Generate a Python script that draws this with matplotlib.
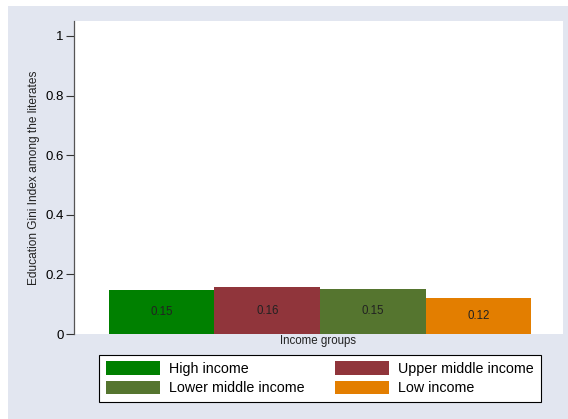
import matplotlib.pyplot as plt
from matplotlib.patches import Rectangle

plt.rcParams['font.family'] = ['Liberation Sans', 'DejaVu Sans']

groups = ['High income', 'Upper middle income', 'Lower middle income', 'Low income']
gini = [0.148, 0.157, 0.151, 0.121]
labels = ['0.15', '0.16', '0.15', '0.12']
colors = ['#008000', '#90353B', '#55752F', '#E37E00']

fig = plt.figure(figsize=(5.68, 4.19), dpi=100, facecolor='white')
fig.patches.append(Rectangle((8/568, 0), 1, (419-6)/419, transform=fig.transFigure,
                             facecolor='#E2E6F0', edgecolor='none', zorder=-1))

ax = fig.add_axes([74/568, (419-334)/419, (563-74)/568, (334-21)/419])
ax.set_facecolor('white')

bars = []
for i, (g, v, c) in enumerate(zip(groups, gini, colors)):
    b = ax.bar(i, v, width=1.0, color=c, label=g)
    bars.append(b)
    ax.text(i, v/2, labels[i], ha='center', va='center', fontsize=8.3, color='#222222')

ax.set_xlim(-0.83, 3.8)
ax.set_ylim(0, 1.05)
ax.set_yticks([0, 0.2, 0.4, 0.6, 0.8, 1])
ax.set_yticklabels(['0', '0.2', '0.4', '0.6', '0.8', '1'])
ax.set_xticks([])
ax.set_xlabel('Income groups', fontsize=8.3, labelpad=1, color='#222222')
ax.set_ylabel('Education Gini Index among the literates', fontsize=8.6, labelpad=4, color='#222222')
ax.tick_params(axis='y', labelsize=9.5, length=5.5, width=0.8, color='#333333', pad=2)
for s in ['top', 'right', 'bottom']:
    ax.spines[s].set_visible(False)
ax.spines['left'].set_color('#555555')
ax.spines['left'].set_linewidth(0.9)

# row-major order like the reference: High, Upper / Lower, Low
order = [0, 2, 1, 3]
leg = ax.legend([bars[k] for k in order], [groups[k] for k in order],
                loc='upper center', bbox_to_anchor=((320-74)/489, -0.067), ncol=2,
                fontsize=10.3, frameon=True, fancybox=False, edgecolor='black',
                facecolor='white', framealpha=1,
                handlelength=3.8, handleheight=1.05, handletextpad=0.63,
                columnspacing=2.1, borderpad=0.45, labelspacing=0.35, borderaxespad=0)
leg.get_frame().set_linewidth(0.8)

plt.savefig('out.png', dpi=100, facecolor=fig.get_facecolor())
